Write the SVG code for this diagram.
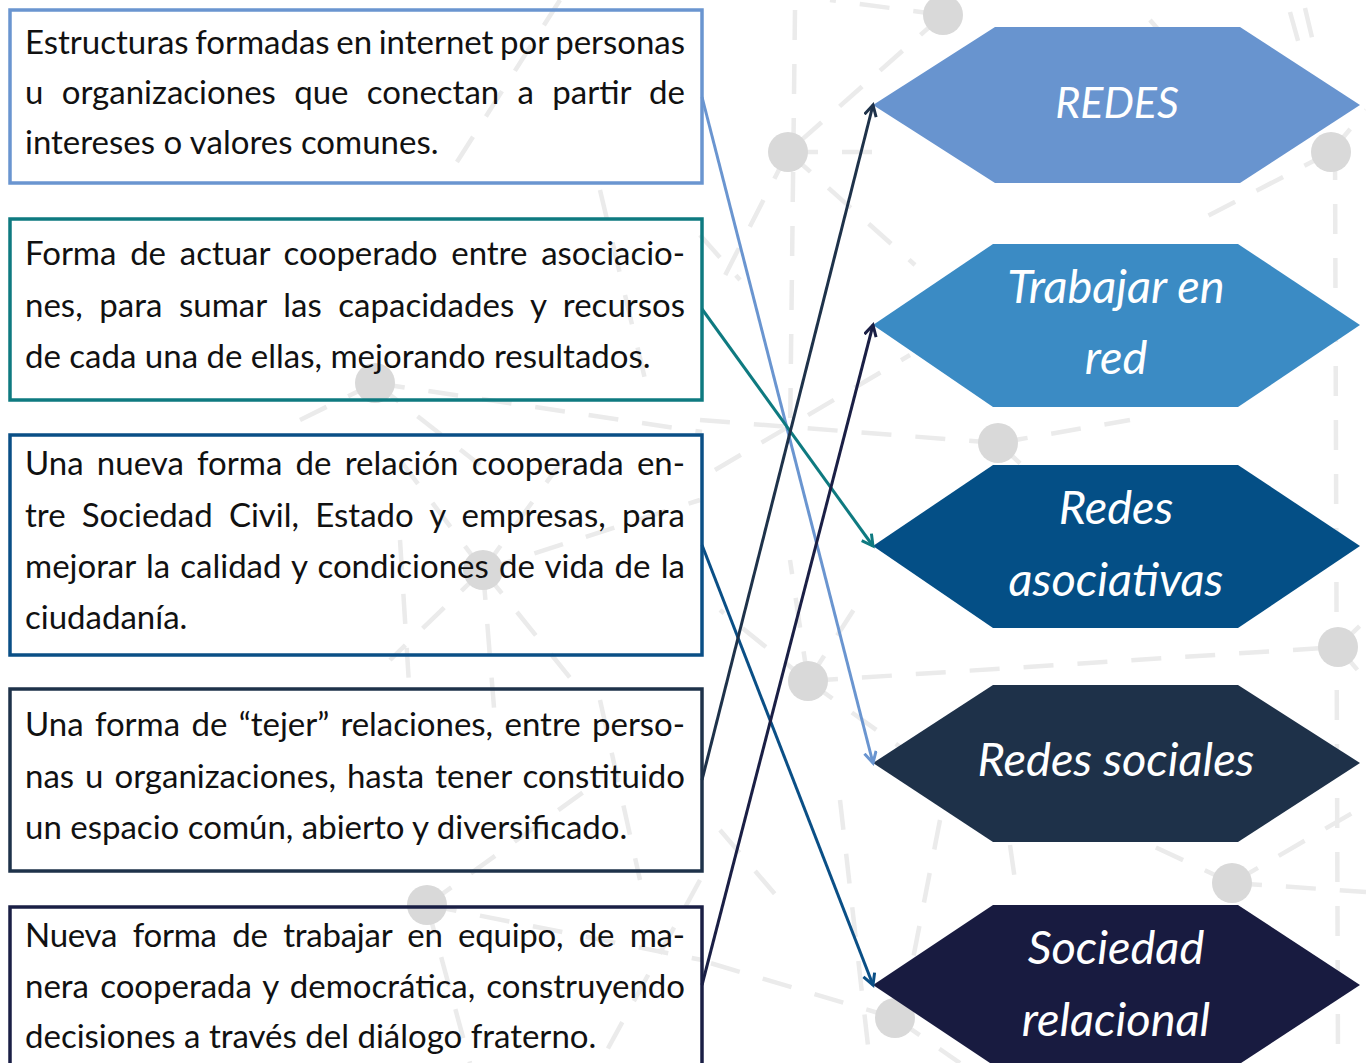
<svg xmlns="http://www.w3.org/2000/svg" width="1366" height="1063" viewBox="0 0 1366 1063">
<style>
.bg{fill:none;stroke:#ebebeb;stroke-width:4.5;stroke-dasharray:30 24}
.dot{fill:#d9d9d9}
.box{fill:none;stroke-width:3.5}
.t{font-family:Lato,"Open Sans","Liberation Sans",sans-serif;font-size:33px;fill:#111}
.h{font-family:Lato,"Open Sans","Liberation Sans",sans-serif;font-size:47px;font-style:italic;fill:#fff;text-anchor:middle}
.c{fill:none;stroke-width:3}
</style>
<defs>
<marker id="a1" markerUnits="userSpaceOnUse" markerWidth="20" markerHeight="20" refX="12" refY="7" orient="auto"><path d="M1,1 L12,7 L1,13" fill="none" stroke="#6a95d0" stroke-width="3"/></marker>
<marker id="a2" markerUnits="userSpaceOnUse" markerWidth="20" markerHeight="20" refX="12" refY="7" orient="auto"><path d="M1,1 L12,7 L1,13" fill="none" stroke="#0e7a80" stroke-width="3"/></marker>
<marker id="a3" markerUnits="userSpaceOnUse" markerWidth="20" markerHeight="20" refX="12" refY="7" orient="auto"><path d="M1,1 L12,7 L1,13" fill="none" stroke="#0a4f86" stroke-width="3"/></marker>
<marker id="a4" markerUnits="userSpaceOnUse" markerWidth="20" markerHeight="20" refX="12" refY="7" orient="auto"><path d="M1,1 L12,7 L1,13" fill="none" stroke="#1e324a" stroke-width="3"/></marker>
<marker id="a5" markerUnits="userSpaceOnUse" markerWidth="20" markerHeight="20" refX="12" refY="7" orient="auto"><path d="M1,1 L12,7 L1,13" fill="none" stroke="#1a1f45" stroke-width="3"/></marker>
</defs>
<rect width="1366" height="1063" fill="#fff"/>
<g id="background">
<path class="bg" d="M795,10 L790,440"/>
<path class="bg" d="M943,15 L788,152"/>
<path class="bg" d="M943,15 L830,0"/>
<path class="bg" d="M788,152 L880,152"/>
<path class="bg" d="M788,152 L915,265"/>
<path class="bg" d="M788,152 L715,295"/>
<path class="bg" d="M700,235 L740,280"/>
<path class="bg" d="M700,420 L998,443"/>
<path class="bg" d="M998,443 L1130,420"/>
<path class="bg" d="M998,443 L1060,500"/>
<path class="bg" d="M715,470 L910,355"/>
<path class="bg" d="M1335,150 L1338,1063"/>
<path class="bg" d="M1331,152 L1200,220"/>
<path class="bg" d="M1331,152 L1366,110"/>
<path class="bg" d="M1150,20 L1215,95"/>
<path class="bg" d="M1290,12 L1302,55 M1305,8 L1315,50"/>
<path class="bg" d="M808,681 L1338,647"/>
<path class="bg" d="M808,681 L720,610"/>
<path class="bg" d="M808,681 L860,600"/>
<path class="bg" d="M808,681 L960,790"/>
<path class="bg" d="M808,681 L790,560"/>
<path class="bg" d="M1338,647 L1366,620"/>
<path class="bg" d="M1338,647 L1366,680"/>
<path class="bg" d="M1232,883 L1366,892"/>
<path class="bg" d="M1232,883 L1140,840"/>
<path class="bg" d="M1232,883 L1366,805"/>
<path class="bg" d="M1010,845 L1015,880"/>
<path class="bg" d="M895,1018 L700,960"/>
<path class="bg" d="M895,1018 L960,1063"/>
<path class="bg" d="M840,800 L870,1063"/>
<path class="bg" d="M940,820 L905,1000"/>
<path class="bg" d="M720,830 L780,900"/>
<path class="bg" d="M375,383 L702,432"/>
<path class="bg" d="M375,383 L480,465"/>
<path class="bg" d="M375,383 L300,420"/>
<path class="bg" d="M483,570 L400,460"/>
<path class="bg" d="M483,570 L570,450"/>
<path class="bg" d="M483,570 L390,660"/>
<path class="bg" d="M483,570 L580,690"/>
<path class="bg" d="M483,570 L495,720"/>
<path class="bg" d="M483,570 L700,500"/>
<path class="bg" d="M427,905 L470,1063"/>
<path class="bg" d="M427,905 L702,960"/>
<path class="bg" d="M427,905 L600,780"/>
<path class="bg" d="M560,0 L455,165"/>
<path class="bg" d="M600,190 L650,400"/>
<path class="bg" d="M400,540 L410,700"/>
<path class="bg" d="M600,700 L640,880"/>
<path class="bg" d="M700,880 L600,1063"/>
<circle class="dot" cx="943" cy="15" r="20"/>
<circle class="dot" cx="788" cy="152" r="20"/>
<circle class="dot" cx="1331" cy="152" r="20"/>
<circle class="dot" cx="375" cy="383" r="20"/>
<circle class="dot" cx="998" cy="443" r="20"/>
<circle class="dot" cx="483" cy="570" r="20"/>
<circle class="dot" cx="808" cy="681" r="20"/>
<circle class="dot" cx="1338" cy="647" r="20"/>
<circle class="dot" cx="427" cy="905" r="20"/>
<circle class="dot" cx="1232" cy="883" r="20"/>
<circle class="dot" cx="895" cy="1018" r="20"/>
</g>
<g id="box1">
<rect class="box" x="10" y="10" width="692" height="173" stroke="#6a95d0"/>
<text class="t" x="25" y="54" word-spacing="-1.8" textLength="660" lengthAdjust="spacing">Estructuras formadas en internet por personas</text>
<text class="t" x="25" y="104" word-spacing="9.8" textLength="660" lengthAdjust="spacing">u organizaciones que conectan a partir de</text>
<text class="t" x="25" y="154">intereses o valores comunes.</text>
</g>
<g id="box2">
<rect class="box" x="10" y="219" width="692" height="181" stroke="#0e7a80"/>
<text class="t" x="25" y="265" word-spacing="5.4" textLength="660" lengthAdjust="spacing">Forma de actuar cooperado entre asociacio-</text>
<text class="t" x="25" y="317" word-spacing="8.2" textLength="660" lengthAdjust="spacing">nes, para sumar las capacidades y recursos</text>
<text class="t" x="25" y="368">de cada una de ellas, mejorando resultados.</text>
</g>
<g id="box3">
<rect class="box" x="10" y="435" width="692" height="220" stroke="#0a4f86"/>
<text class="t" x="25" y="475" word-spacing="4.8" textLength="660" lengthAdjust="spacing">Una nueva forma de relación cooperada en-</text>
<text class="t" x="25" y="527" word-spacing="7.8" textLength="660" lengthAdjust="spacing">tre Sociedad Civil, Estado y empresas, para</text>
<text class="t" x="25" y="578" word-spacing="1.9" textLength="660" lengthAdjust="spacing">mejorar la calidad y condiciones de vida de la</text>
<text class="t" x="25" y="629">ciudadanía.</text>
</g>
<g id="box4">
<rect class="box" x="10" y="689" width="692" height="182" stroke="#1e324a"/>
<text class="t" x="25" y="736" word-spacing="3" textLength="660" lengthAdjust="spacing">Una forma de “tejer” relaciones, entre perso-</text>
<text class="t" x="25" y="788" word-spacing="2.6" textLength="660" lengthAdjust="spacing">nas u organizaciones, hasta tener constituido</text>
<text class="t" x="25" y="839">un espacio común, abierto y diversificado.</text>
</g>
<g id="box5">
<rect class="box" x="10" y="907" width="692" height="170" stroke="#1a1f45"/>
<text class="t" x="25" y="947" word-spacing="7.3" textLength="660" lengthAdjust="spacing">Nueva forma de trabajar en equipo, de ma-</text>
<text class="t" x="25" y="998" word-spacing="2.75" textLength="660" lengthAdjust="spacing">nera cooperada y democrática, construyendo</text>
<text class="t" x="25" y="1048">decisiones a través del diálogo fraterno.</text>
</g>
<g id="hex1">
<polygon points="873,105 995,27 1240,27 1360,105 1240,183 995,183" fill="#6894cf"/>
<text class="h" x="1117" y="118" style="font-size:43px">REDES</text>
</g>
<g id="hex2">
<polygon points="873,325 993,244 1238,244 1360,325 1238,407 993,407" fill="#3b8bc4"/>
<text class="h" x="1116" y="303">Trabajar en</text>
<text class="h" x="1116" y="374">red</text>
</g>
<g id="hex3">
<polygon points="873,546 993,465 1238,465 1360,546 1238,628 993,628" fill="#044f86"/>
<text class="h" x="1116" y="524">Redes</text>
<text class="h" x="1116" y="596">asociativas</text>
</g>
<g id="hex4">
<polygon points="873,763 993,685 1238,685 1360,763 1238,842 993,842" fill="#1e3149"/>
<text class="h" x="1116" y="776">Redes sociales</text>
</g>
<g id="hex5">
<polygon points="873,985 993,905 1238,905 1360,985 1238,1065 993,1065" fill="#181b40"/>
<text class="h" x="1116" y="964">Sociedad</text>
<text class="h" x="1116" y="1036">relacional</text>
</g>
<g id="connectors">
<line class="c" x1="702" y1="97" x2="873" y2="763" stroke="#6a95d0" marker-end="url(#a1)"/>
<line class="c" x1="702" y1="309" x2="873" y2="546" stroke="#0e7a80" marker-end="url(#a2)"/>
<line class="c" x1="702" y1="545" x2="873" y2="985" stroke="#0a4f86" marker-end="url(#a3)"/>
<line class="c" x1="702" y1="780" x2="873" y2="105" stroke="#1e324a" marker-end="url(#a4)"/>
<line class="c" x1="702" y1="985" x2="873" y2="325" stroke="#1a1f45" marker-end="url(#a5)"/>
</g>
</svg>
